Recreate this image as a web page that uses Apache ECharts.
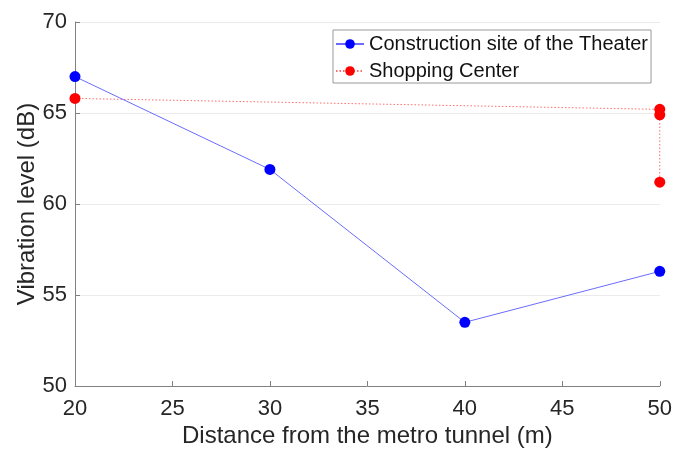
<!DOCTYPE html>
<html><head><meta charset="utf-8">
<script src="https://cdn.jsdelivr.net/npm/echarts@6/dist/echarts.min.js"></script>
<style>html,body{margin:0;padding:0;background:#fff}#c{width:675px;height:453px}</style>
</head><body><div id="c"></div>
<script>
const xTheater = [20, 30, 40, 50];
const yTheater = [67.0, 61.9, 53.5, 56.3];
const xShopping = [20, 50, 50, 50];
const yShopping = [65.8, 65.2, 64.9, 61.2];
const seriesNames = ['Construction site of the Theater', 'Shopping Center'];

const chart = echarts.init(document.getElementById('c'));
const axisCol = '#808080';
const txt = '#262626';
const ff = 'Liberation Sans, Arial, sans-serif';
chart.setOption({
  animation: false,
  textStyle: {fontFamily: ff},
  grid: {left: 75, right: 12, top: 22, bottom: 67},
  legend: {
    orient: 'vertical', left: 333, top: 30,
    data: seriesNames,
    backgroundColor: '#fff', borderColor: '#999', borderWidth: 1,
    padding: [4, 3, 2, 2], itemGap: 7, itemWidth: 28, itemHeight: 12,
    textStyle: {fontSize: 20, color: '#111', fontFamily: ff}
  },
  xAxis: {
    type: 'value', min: 20, max: 50, interval: 5,
    name: 'Distance from the metro tunnel (m)', nameLocation: 'middle', nameGap: 38,
    nameMoveOverlap: false,
    nameTextStyle: {fontSize: 24, color: txt},
    axisLine: {lineStyle: {color: axisCol}},
    axisTick: {inside: true, length: 5, lineStyle: {color: axisCol}},
    axisLabel: {fontSize: 22, color: txt, margin: 12},
    splitLine: {show: false}
  },
  yAxis: {
    type: 'value', min: 50, max: 70, interval: 5,
    name: 'Vibration level (dB)', nameLocation: 'middle', nameGap: 36,
    nameMoveOverlap: false,
    nameTextStyle: {fontSize: 24, color: txt},
    axisLine: {show: true, lineStyle: {color: axisCol}},
    axisTick: {show: true, inside: true, length: 5, lineStyle: {color: axisCol}},
    axisLabel: {fontSize: 22, color: txt, margin: 8, padding: [5, 0, 0, 0]},
    splitLine: {show: true, lineStyle: {color: '#ebebeb', width: 1}}
  },
  series: [
    {
      name: seriesNames[0], type: 'line',
      data: xTheater.map((x, i) => [x, yTheater[i]]),
      symbol: 'circle', symbolSize: 11,
      itemStyle: {color: '#0000ff'},
      lineStyle: {color: '#6b6bff', width: 1},
      clip: false, z: 3
    },
    {
      name: seriesNames[1], type: 'line',
      data: xShopping.map((x, i) => [x, yShopping[i]]),
      symbol: 'circle', symbolSize: 11,
      itemStyle: {color: '#ff0000'},
      lineStyle: {color: '#ff6b6b', width: 1, type: [1.5, 2]},
      clip: false, z: 2
    }
  ]
});
</script></body></html>
